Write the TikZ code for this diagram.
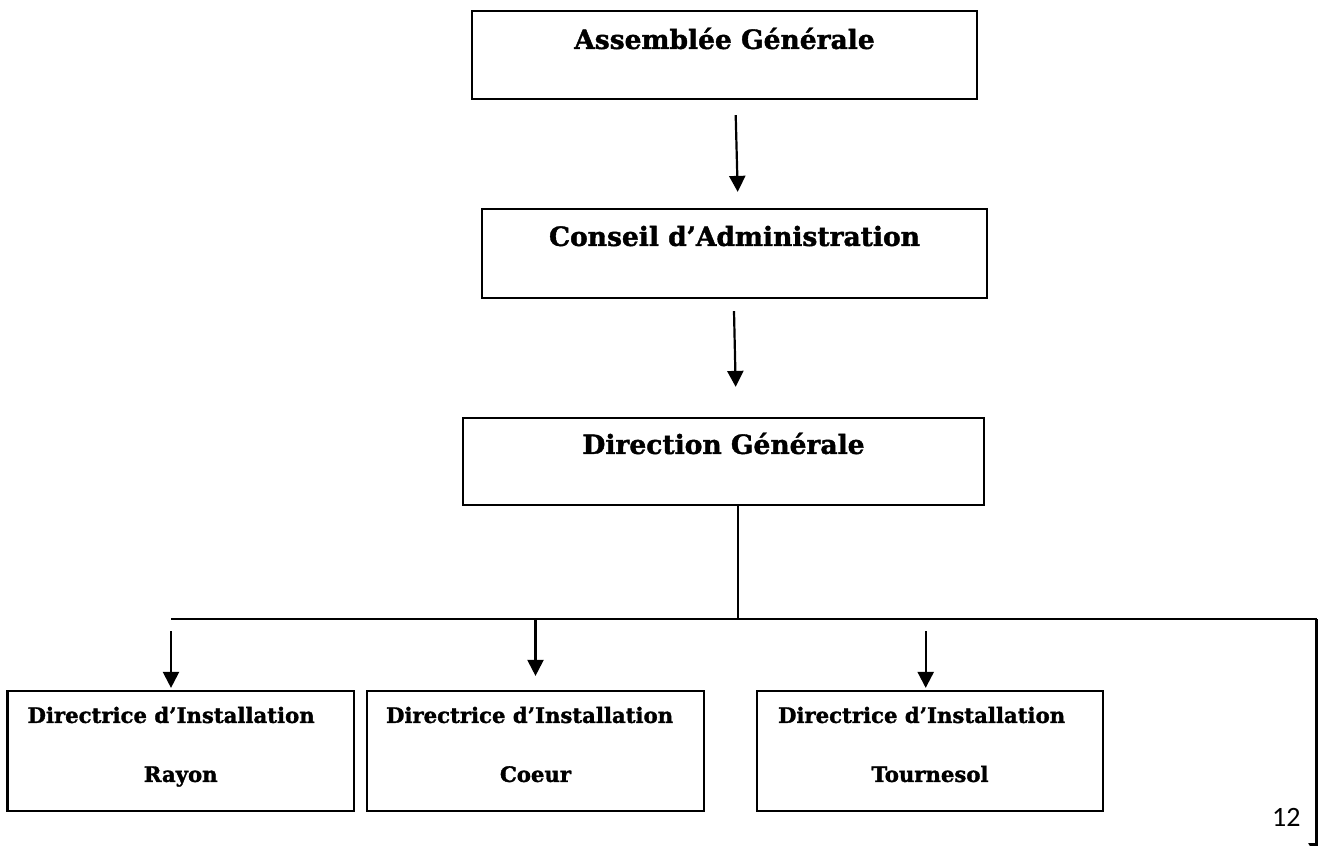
\documentclass[tikz,border=0pt]{standalone}
\usepackage{fontspec}
\usetikzlibrary{arrows.meta}
\newfontfamily\orgfont[BoldFeatures={FakeBold=1.5}]{DejaVu Serif}
\newfontfamily\pagefont{Carlito}

\tikzstyle{box}=[draw,line width=2.2pt,inner sep=0pt]
\tikzstyle{title}=[font=\orgfont\bfseries\fontsize{26.5}{30}\selectfont,inner sep=0pt,anchor=base]
\tikzstyle{unit}=[font=\orgfont\bfseries\fontsize{21.2}{25}\selectfont,inner sep=0pt]
\tikzstyle{link}=[line width=1.7pt]
\tikzstyle{arrow}=[line width=2.2pt,-{Triangle[length=16pt,width=16pt]}]

\begin{document}
\begin{tikzpicture}[x=1pt,y=-1pt]
    \useasboundingbox (0,0) rectangle (1318,846);
    \node (ag)[box,minimum width=505pt,minimum height=88pt] at (724.5,55) {};
    \node (ca)[box,minimum width=505pt,minimum height=89pt] at (734.5,253.5) {};
    \node (dg)[box,minimum width=521pt,minimum height=87pt] at (723.5,461.5) {};
    \node (ray)[box,minimum width=346.5pt,minimum height=120pt] at (180.75,751) {};
    \node (cou)[box,minimum width=337pt,minimum height=120pt] at (535.5,751) {};
    \node (tou)[box,minimum width=346pt,minimum height=120pt] at (930,751) {};
    \node (agt)[title] at ([yshift=-39pt]ag.north) {Assemblée Générale};
    \node (cat)[title] at ([yshift=-38pt]ca.north) {Conseil d’Administration};
    \node (dgt)[title] at ([yshift=-37pt]dg.north) {Direction Générale};
    \node (ray1)[unit,anchor=base west] at ([xshift=21pt,yshift=-33pt]ray.north west) {Directrice d’Installation};
    \node (cou1)[unit,anchor=base west] at ([xshift=20pt,yshift=-33pt]cou.north west) {Directrice d’Installation};
    \node (tou1)[unit,anchor=base west] at ([xshift=22pt,yshift=-33pt]tou.north west) {Directrice d’Installation};
    \node (ray2)[unit,anchor=base] at ([yshift=-92pt]ray.north) {Rayon};
    \node (cou2)[unit,anchor=base] at ([yshift=-92pt]cou.north) {Coeur};
    \node (tou2)[unit,anchor=base] at ([yshift=-92pt]tou.north) {Tournesol};
    \node (pg)[font=\pagefont\fontsize{28}{32}\selectfont,inner sep=0pt,anchor=base west] at (1272,826) {12};
    \coordinate (hub) at (737.7,619);
    \coordinate (west) at (171,619);
    \coordinate (east) at (1316.5,619);
    \coordinate (out) at (1316.5,859);
    \draw[arrow] ([xshift=11.2pt,yshift=-15pt]ag.south) -- ([xshift=3.2pt,yshift=16pt]ca.north);
    \draw[arrow] ([xshift=-0.5pt,yshift=-12pt]ca.south) -- ([xshift=12.2pt,yshift=30pt]dg.north);
    \draw[link] ([xshift=14.2pt]dg.south) -- (hub);
    \draw[link] (west) -- (east);
    \draw[arrow] (east) -- (out);
    \draw[arrow] ([yshift=-12pt]west) -- ([xshift=-9.75pt,yshift=2pt]ray.north);
    \draw[arrow] (hub -| cou.north) -- ([yshift=14pt]cou.north);
    \draw[arrow] ([yshift=-12pt]hub -| 925.7,0) -- ([xshift=-4.3pt,yshift=2pt]tou.north);
\end{tikzpicture}
\end{document}
